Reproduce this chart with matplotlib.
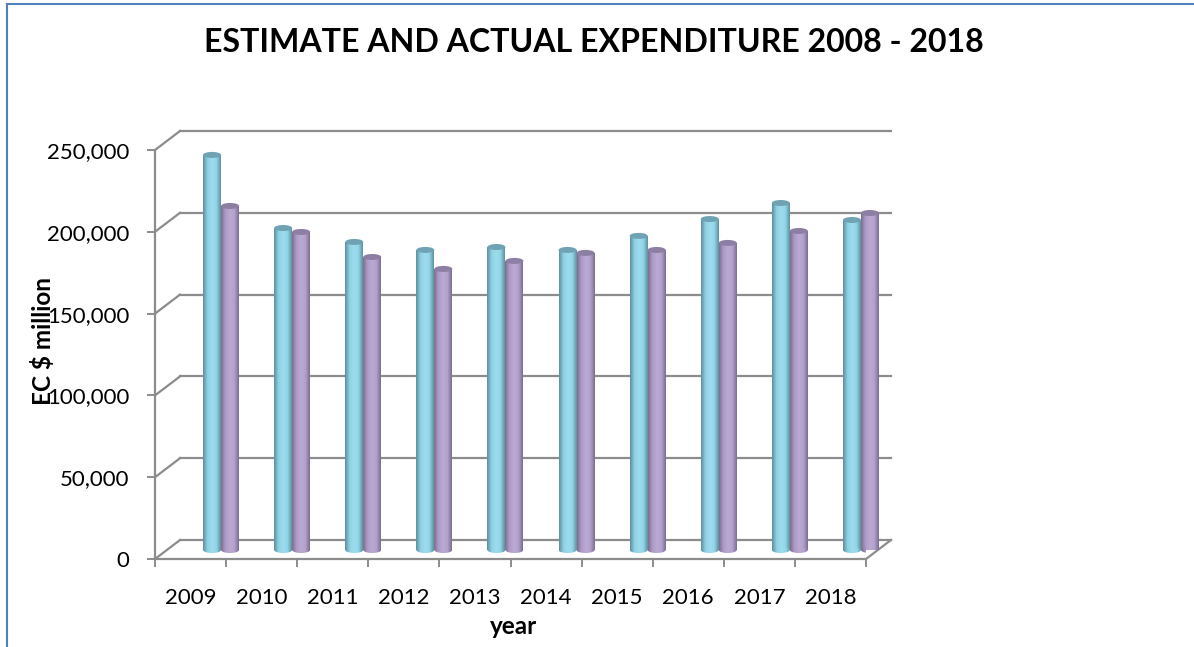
import numpy as np
import matplotlib
matplotlib.use("Agg")
import matplotlib.pyplot as plt
from matplotlib.patches import Ellipse
from matplotlib.colors import LinearSegmentedColormap

plt.rcParams["font.family"] = ["Lato", "DejaVu Sans"]

years = ["2009", "2010", "2011", "2012", "2013", "2014", "2015", "2016", "2017", "2018"]
estimate = [241500, 196800, 188300, 183400, 185200, 183400, 192000, 202300, 212100, 201700]
actual = [210300, 194400, 179100, 171800, 176700, 181600, 183400, 187700, 195000, 206000]
y_ticks = [0, 50000, 100000, 150000, 200000, 250000]

W, H = 1194, 647
GRID = "#8c8c8c"

# front plane of the fake 3d box, in pixels
left, right, top, bottom = 155, 866, 150, 559
px_x = 10 / (right - left)
px_y = 250000 / (bottom - top)
depth_x = 25 * px_x
depth_y = 19 * px_y
bar_dx = 30.5 * px_x
bar_dy = 9 * px_y
bar_w = 18 * px_x

fig = plt.figure(figsize=(W / 100, H / 100), dpi=100)
ax = fig.add_axes([left / W, 1 - bottom / H, (right - left) / W, (bottom - top) / H])
ax.patch.set_alpha(0)

# back wall gridlines and the diagonals
for v in y_ticks:
    ax.plot([depth_x, 10 + depth_x], [v + depth_y, v + depth_y], color=GRID, lw=1.6, clip_on=False, zorder=1)
    ax.plot([0, depth_x], [v, v + depth_y], color=GRID, lw=1.6, clip_on=False, zorder=1)
ax.plot([10, 10 + depth_x], [0, depth_y], color=GRID, lw=1.6, clip_on=False, zorder=1)


def cylinder(x, v, cmap, cap, z):
    # gradient body clipped to the real bar, same gradient for the round foot
    grad = np.linspace(0, 1, 40).reshape(1, -1)
    h = 6 * px_y
    bar = ax.bar(x, v, bar_w, bottom=bar_dy, color="none", edgecolor="none", clip_on=False, zorder=z)[0]
    img = ax.imshow(grad, extent=[x - bar_w / 2, x + bar_w / 2, bar_dy, bar_dy + v], cmap=cmap,
                    aspect="auto", zorder=z)
    img.set_clip_path(bar)
    foot = Ellipse((x, bar_dy), bar_w, h, color="none", clip_on=False, zorder=z)
    ax.add_patch(foot)
    img2 = ax.imshow(grad, extent=[x - bar_w / 2, x + bar_w / 2, bar_dy - h / 2, bar_dy + h / 2], cmap=cmap,
                     aspect="auto", zorder=z)
    img2.set_clip_path(foot)
    ax.add_patch(Ellipse((x, bar_dy + v), bar_w, h, facecolor=cap, edgecolor="none", clip_on=False, zorder=z + 0.1))


blue = LinearSegmentedColormap.from_list("b", ["#5f909f", "#8fd0e2", "#9ddcee", "#93d6e9", "#5f939f"])
purple = LinearSegmentedColormap.from_list("p", ["#7d6f91", "#ae9cc8", "#bba9d3", "#b3a2cc", "#7d6f93"])

for i in range(len(years)):
    cx = i + 0.5 + bar_dx
    cylinder(cx - bar_w / 2, estimate[i], blue, "#6fa3b3", 3)
    cylinder(cx + bar_w / 2, actual[i], purple, "#8d7ea3", 4)

ax.set_xlim(0, 10)
ax.set_ylim(0, 250000)
ax.set_xticks(range(11))
ax.set_xticklabels([])
ax.set_xticks(np.arange(len(years)) + 0.5, labels=years, minor=True)
ax.set_yticks(y_ticks)
ax.set_yticklabels([f"{v:,}" for v in y_ticks])
ax.tick_params(axis="x", which="major", length=6, width=1.4, color=GRID)
ax.tick_params(axis="x", which="minor", length=0, labelsize=16, pad=21)
ax.tick_params(axis="y", length=6, width=1.4, color=GRID, labelsize=16, pad=12.5)

for s in ["top", "right"]:
    ax.spines[s].set_visible(False)
for s in ["left", "bottom"]:
    ax.spines[s].set_color(GRID)
    ax.spines[s].set_linewidth(1.6)

fig.text(594 / W, 1 - 42 / H, "ESTIMATE AND ACTUAL EXPENDITURE 2008 - 2018",
         fontsize=23.1, fontweight="bold", ha="center", va="center")
fig.text(43 / W, 1 - 341 / H, "EC $ million", fontsize=17.5, fontweight="bold",
         rotation=90, ha="center", va="center")
fig.text(514 / W, 1 - 627 / H, "year", fontsize=17.5, fontweight="bold", ha="center", va="center")

# chart frame, blue lines on the left and top
fig.add_artist(plt.Line2D([7 / W, 7 / W], [0, 1 - 3.5 / H], color="#4f81bd", lw=1.5))
fig.add_artist(plt.Line2D([7 / W, 1], [1 - 3.5 / H, 1 - 3.5 / H], color="#4f81bd", lw=1.5))

fig.savefig("out.png", dpi=100)
